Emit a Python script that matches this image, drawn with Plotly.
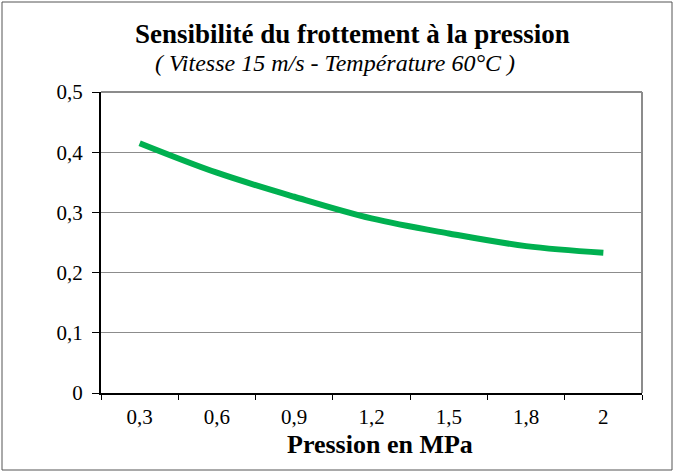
import plotly.graph_objects as go

categories = ["0,3", "0,6", "0,9", "1,2", "1,5", "1,8", "2"]
friction = [0.415, 0.366, 0.326, 0.290, 0.265, 0.244, 0.233]
y_ticks = [0, 0.1, 0.2, 0.3, 0.4, 0.5]
y_labels = ["0", "0,1", "0,2", "0,3", "0,4", "0,5"]

W, H = 674, 472
L, R, T, B = 101, 32, 92, 79
pw, ph = W - L - R, H - T - B

def px(x):
    return (x - L) / pw

def py(y):
    return (H - B - y) / ph

FONT = "Times New Roman, Liberation Serif, DejaVu Serif, serif"

fig = go.Figure()
fig.add_trace(go.Scatter(
    x=categories, y=friction, mode="lines",
    line=dict(color="#00B050", width=6, shape="spline", smoothing=1.0),
    hoverinfo="skip", showlegend=False,
))

fig.update_layout(
    width=W, height=H,
    margin=dict(l=L, r=R, t=T, b=B),
    paper_bgcolor="white", plot_bgcolor="white",
    font=dict(family=FONT, size=21, color="black"),
    showlegend=False,
)
fig.update_xaxes(
    type="category", range=[-0.5, 6.5], tickson="boundaries",
    ticks="outside", ticklen=5, tickcolor="black", tickwidth=1,
    showgrid=False, showline=True, linecolor="black", linewidth=2,
    tickfont=dict(family=FONT, size=21), zeroline=False, ticklabelstandoff=4,
)
fig.update_yaxes(
    range=[0, 0.5], tickvals=y_ticks, ticktext=y_labels,
    ticks="outside", ticklen=7, tickcolor="black", tickwidth=1,
    showgrid=True, gridcolor="#8c8c8c", gridwidth=1,
    showline=True, linecolor="black", linewidth=2, zeroline=False,
    tickfont=dict(family=FONT, size=21), ticklabelstandoff=5,
)

# plot-area top and right border (gray)
fig.add_shape(type="line", xref="paper", yref="paper", x0=0, x1=1, y0=1, y1=1,
              line=dict(color="#8c8c8c", width=2))
fig.add_shape(type="line", xref="paper", yref="paper", x0=1, x1=1, y0=0, y1=1,
              line=dict(color="#8c8c8c", width=2))
# outer chart frame
fig.add_shape(type="rect", xref="paper", yref="paper",
              x0=px(2), x1=px(672), y0=py(470), y1=py(2),
              line=dict(color="#555555", width=1), layer="below")

fig.add_annotation(text="<b>Sensibilité du frottement à la pression</b>",
                   xref="paper", yref="paper", x=px(352), y=py(51),
                   xanchor="center", yanchor="bottom", showarrow=False,
                   font=dict(family=FONT, size=27, color="black"))
fig.add_annotation(text="<i>( Vitesse 15 m/s - Température 60°C )</i>",
                   xref="paper", yref="paper", x=px(335), y=py(78),
                   xanchor="center", yanchor="bottom", showarrow=False,
                   font=dict(family=FONT, size=24, color="black"))
fig.add_annotation(text="<b>Pression en MPa</b>",
                   xref="paper", yref="paper", x=px(380), y=py(461),
                   xanchor="center", yanchor="bottom", showarrow=False,
                   font=dict(family=FONT, size=26, color="black"))

fig.write_html("out.html", post_script="document.body.style.margin='0';",
               config={"displayModeBar": False})
